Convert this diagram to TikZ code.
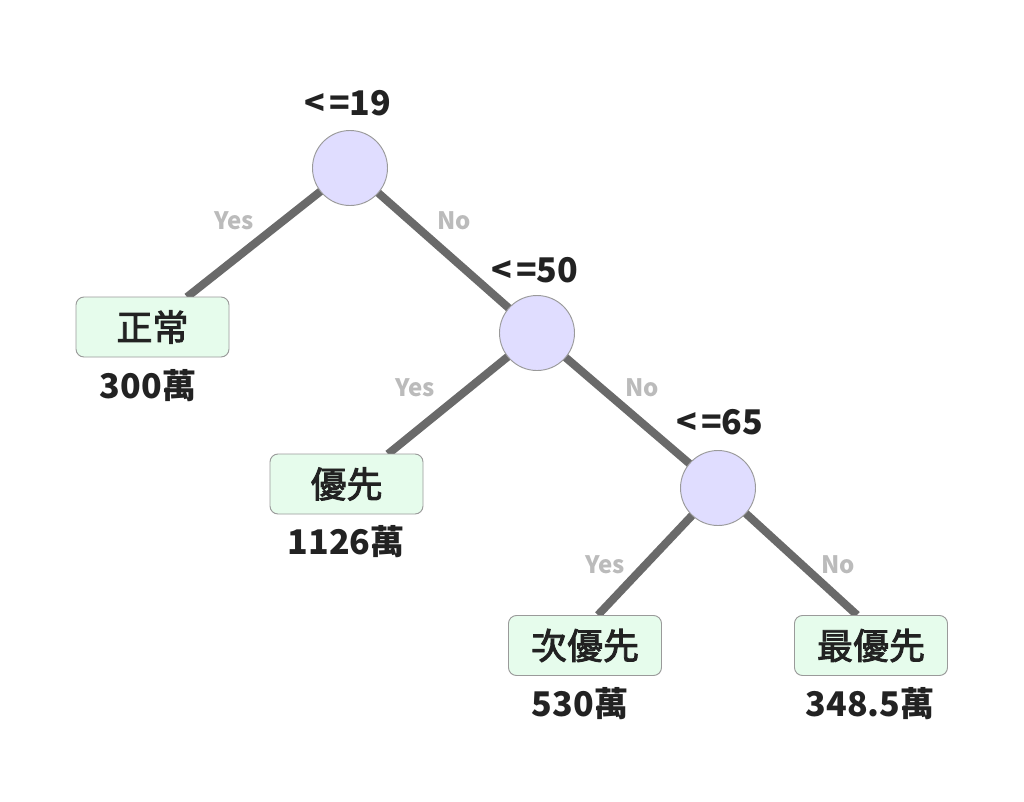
\documentclass[tikz,border=0pt]{standalone}
\usepackage{fontspec}
\setmainfont{Noto Sans CJK TC}
\newfontfamily\boxfont[FakeBold=2.5]{Noto Sans CJK TC}
\usetikzlibrary{backgrounds}
\definecolor{circfill}{HTML}{E0DDFF}
\definecolor{boxfill}{HTML}{E6FCEC}
\definecolor{bordergray}{HTML}{9A9A9A}
\definecolor{edgegray}{HTML}{6A6A6A}
\definecolor{lblgray}{HTML}{BBBBBB}
\definecolor{txt}{HTML}{222222}
\tikzset{
  decision/.style={circle, draw=bordergray, fill=circfill, line width=0.7pt, minimum size=56.25pt, inner sep=0pt},
  leafbox/.style={rectangle, rounded corners=6pt, draw=bordergray, fill=boxfill, line width=0.7pt, minimum width=114.75pt, minimum height=45pt, inner sep=0pt, font=\boxfont\fontsize{27}{30}\selectfont, text=txt},
  thresh/.style={font=\bfseries\fontsize{25.5}{28}\selectfont, text=txt, inner sep=0pt},
  value/.style={font=\bfseries\fontsize{25.5}{28}\selectfont, text=txt, inner sep=0pt},
  edgelbl/.style={font=\bfseries\fontsize{18}{20}\selectfont, text=lblgray, inner sep=0pt},
  edge/.style={draw=edgegray, line width=6pt}
}
\newcommand{\lte}{<\kern3pt=}
\begin{document}
\begin{tikzpicture}[x=0.75pt, y=-0.75pt]
\useasboundingbox (0,0) rectangle (1024,801);
% decision nodes
\node[decision] (c1) at (350,168) {};
\node[decision] (c2) at (537,333) {};
\node[decision] (c3) at (718,488) {};
% thresholds
\node[thresh] (t1) at (348,103) {\lte19};
\node[thresh] (t2) at (535,270) {\lte50};
\node[thresh] (t3) at (720,422) {\lte65};
% leaves
\node[leafbox] (b1) at (152.5,327) {正常};
\node[leafbox] (b2) at (346.5,484) {優先};
\node[leafbox] (b3) at (585,645.5) {次優先};
\node[leafbox] (b4) at (871,645.5) {最優先};
% values
\node[value] (v1) at (148,386) {300萬};
\node[value] (v2) at (346,542) {1126萬};
\node[value] (v3) at (580,704) {530萬};
\node[value] (v4) at (870,704) {348.5萬};
% edge labels
\node[edgelbl] (y1) at (234,221) {Yes};
\node[edgelbl] (n1) at (454,221) {No};
\node[edgelbl] (y2) at (415,388) {Yes};
\node[edgelbl] (n2) at (642,388) {No};
\node[edgelbl] (y3) at (605,565) {Yes};
\node[edgelbl] (n3) at (838,565) {No};
% edge endpoints on box tops
\coordinate (e1) at (187,297);
\coordinate (e2) at (388,454);
\coordinate (e3) at (598,615);
\coordinate (e4) at (857,615);
\begin{scope}[on background layer]
\fill[white] (0,0) rectangle (1024,801);
\draw[edge] (c1.center) -- (e1);
\draw[edge] (c1.center) -- (c2.center);
\draw[edge] (c2.center) -- (e2);
\draw[edge] (c2.center) -- (c3.center);
\draw[edge] (c3.center) -- (e3);
\draw[edge] (c3.center) -- (e4);
\end{scope}
\end{tikzpicture}
\end{document}
